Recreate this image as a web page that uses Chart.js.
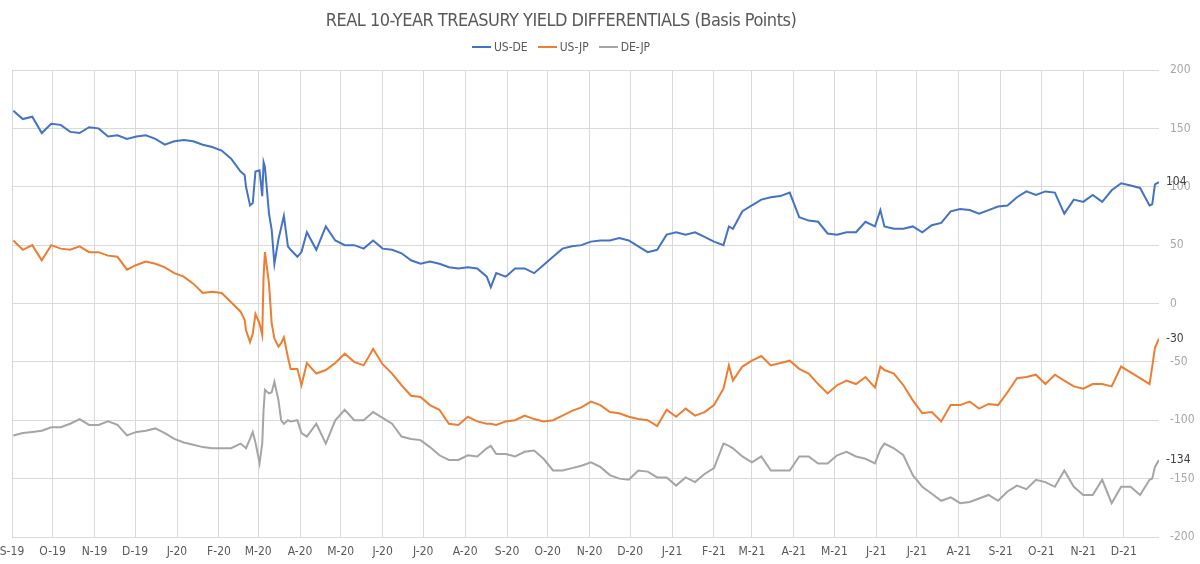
<!DOCTYPE html>
<html lang="en">
<head>
  <meta charset="UTF-8" />
  <title>Real 10-Year Treasury Yield Differentials</title>
  <script src="https://cdn.jsdelivr.net/npm/chart.js@4"></script>
  <style>
    body { margin:0; background:#fff; font-family:"Liberation Sans Narrow","DejaVu Sans Condensed",sans-serif; }
    #wrap { position:relative; width:1200px; height:564px; }
    #title { position:absolute; top:9px; left:0; width:1122px; text-align:center; font-size:18px; letter-spacing:-0.5px; color:#595959; }
    #legend { position:absolute; top:40px; left:0; width:1122px; display:flex; justify-content:center; gap:10px; font-size:12px; color:#595959; }
    .item { display:flex; align-items:center; }
    .swatch { width:19px; height:2px; margin-right:3px; }
  </style>
</head>
<body>
<div id="wrap">
  <canvas id="chart"></canvas>
  <div id="title">REAL 10-YEAR TREASURY YIELD DIFFERENTIALS (Basis Points)</div>
  <div id="legend"></div>
</div>

<script>
  // x axis: one label per month
  const monthLabels = ['S-19','O-19','N-19','D-19',
    'J-20','F-20','M-20','A-20','M-20','J-20','J-20','A-20','S-20','O-20','N-20','D-20',
    'J-21','F-21','M-21','A-21','M-21','J-21','J-21','A-21','S-21','O-21','N-21','D-21'];

  // observation dates (mostly weekly, denser around March 2020)
  const dates = [
    '2019-09-02','2019-09-09','2019-09-16','2019-09-23','2019-09-30',
    '2019-10-07','2019-10-14','2019-10-21','2019-10-28',
    '2019-11-04','2019-11-11','2019-11-18','2019-11-25',
    '2019-12-02','2019-12-09','2019-12-16','2019-12-23','2019-12-30',
    '2020-01-06','2020-01-13','2020-01-20','2020-01-27',
    '2020-02-03','2020-02-10','2020-02-17','2020-02-20','2020-02-21','2020-02-24','2020-02-26','2020-02-28',
    '2020-03-02','2020-03-04','2020-03-05','2020-03-06','2020-03-09','2020-03-11','2020-03-13','2020-03-16','2020-03-18','2020-03-20','2020-03-23','2020-03-25','2020-03-30',
    '2020-04-02','2020-04-06','2020-04-13','2020-04-20','2020-04-27',
    '2020-05-04','2020-05-11','2020-05-18','2020-05-25',
    '2020-06-01','2020-06-08','2020-06-15','2020-06-22','2020-06-29',
    '2020-07-06','2020-07-13','2020-07-20','2020-07-27',
    '2020-08-03','2020-08-10','2020-08-17','2020-08-20','2020-08-24','2020-08-31',
    '2020-09-07','2020-09-14','2020-09-21','2020-09-28',
    '2020-10-05','2020-10-12','2020-10-19','2020-10-26',
    '2020-11-02','2020-11-09','2020-11-16','2020-11-23','2020-11-30',
    '2020-12-07','2020-12-14','2020-12-21','2020-12-28',
    '2021-01-04','2021-01-11','2021-01-18','2021-01-25',
    '2021-02-01','2021-02-08','2021-02-12','2021-02-15','2021-02-22',
    '2021-03-01','2021-03-08','2021-03-15','2021-03-22','2021-03-29',
    '2021-04-05','2021-04-12','2021-04-19','2021-04-26',
    '2021-05-03','2021-05-10','2021-05-17','2021-05-24','2021-05-31',
    '2021-06-04','2021-06-07','2021-06-14','2021-06-21','2021-06-28',
    '2021-07-05','2021-07-12','2021-07-19','2021-07-26',
    '2021-08-02','2021-08-09','2021-08-16','2021-08-23','2021-08-30',
    '2021-09-06','2021-09-13','2021-09-20','2021-09-27',
    '2021-10-04','2021-10-11','2021-10-18','2021-10-25',
    '2021-11-01','2021-11-08','2021-11-15','2021-11-22','2021-11-29',
    '2021-12-06','2021-12-13','2021-12-20','2021-12-22','2021-12-24','2021-12-27'
  ];

  const usDe = [
    165,158,160,146,154,
    153,147,146,151,
    150,143,144,141,
    143,144,141,136,139,
    140,139,136,134,
    131,124,113,110,100,84,86,113,
    114,92,121,117,77,63,34,55,65,75,49,46,40,
    44,61,46,66,54,
    50,50,47,54,
    47,46,43,37,34,
    36,34,31,30,
    31,30,23,14,26,23,
    30,30,26,33,
    40,47,49,50,
    53,54,54,56,54,
    49,44,46,59,
    61,59,61,57,
    53,50,66,64,79,
    84,89,91,92,95,
    74,71,70,60,
    59,61,61,70,66,
    80,66,64,64,66,
    61,67,69,79,
    81,80,77,80,83,
    84,91,96,93,
    96,95,77,89,
    87,93,87,97,103,
    101,99,84,85,102,104
  ];

  const usJp = [
    54,46,50,37,50,
    47,46,49,44,
    44,41,40,29,
    33,36,34,31,26,
    23,17,9,10,
    9,1,-7,-14,-23,-33,-26,-9,
    -17,-27,23,44,17,-17,-30,-37,-34,-29,-46,-56,-56,
    -70,-51,-60,-57,-51,
    -43,-50,-53,-39,
    -52,-60,-70,-79,-80,
    -87,-91,-103,-104,
    -97,-101,-103,-103,-104,-101,
    -100,-96,-99,-101,
    -100,-96,-92,-89,
    -84,-87,-93,-94,-97,
    -99,-100,-105,-91,
    -97,-90,-96,-93,
    -87,-73,-53,-66,-54,
    -49,-45,-53,-51,-49,
    -56,-60,-69,-77,
    -70,-66,-69,-63,-72,
    -54,-57,-60,-70,-83,
    -94,-93,-101,-87,
    -87,-84,-90,-86,-87,
    -76,-64,-63,-61,
    -69,-61,-66,-71,
    -73,-69,-69,-71,-54,
    -59,-64,-69,-54,-38,-30
  ];

  const deJp = [
    -113,-111,-110,-109,-106,
    -106,-103,-99,-104,
    -104,-101,-104,-113,
    -110,-109,-107,-111,-116,
    -119,-121,-123,-124,
    -124,-124,-120,-123,-124,-116,-110,-119,
    -137,-120,-91,-74,-77,-76,-67,-83,-100,-103,-100,-101,-100,
    -111,-114,-103,-120,-100,
    -91,-100,-100,-93,
    -98,-103,-114,-116,-117,
    -123,-130,-134,-134,
    -130,-131,-124,-122,-129,-129,
    -131,-127,-126,-133,
    -143,-143,-141,-139,
    -136,-140,-147,-150,-151,
    -143,-144,-149,-149,
    -156,-149,-153,-146,
    -141,-120,-122,-124,-131,
    -136,-131,-143,-143,-143,
    -131,-131,-137,-137,
    -130,-127,-131,-133,-137,
    -125,-120,-124,-130,-147,
    -157,-163,-169,-166,
    -171,-170,-167,-164,-169,
    -161,-156,-159,-151,
    -153,-157,-143,-157,
    -164,-164,-151,-171,-157,
    -157,-164,-151,-150,-140,-134
  ];

  const seriesNames  = ['US-DE','US-JP','DE-JP'];
  const seriesColors = ['#4472C4','#ED7D31','#A5A5A5'];

  const FONT = '"Liberation Sans Narrow","DejaVu Sans Condensed",sans-serif';
  const DAY = 86400000;
  const START = Date.UTC(2019, 8, 1);  // axis starts 1 Sep 2019
  const dayOf = s => { const [y,m,d] = s.split('-').map(Number); return (Date.UTC(y, m-1, d) - START) / DAY; };
  const monthStarts = monthLabels.map((_, i) => (Date.UTC(2019, 8 + i, 1) - START) / DAY);

  const xs = dates.map(dayOf);
  const toPoints = vals => vals.map((v, i) => ({x: xs[i], y: v}));

  // html legend
  document.getElementById('legend').innerHTML = seriesNames.map((n, i) =>
    `<div class="item"><span class="swatch" style="background:${seriesColors[i]}"></span>${n}</div>`).join('');

  // value written next to the last point of each line
  const endLabels = {
    id: 'endLabels',
    afterDatasetsDraw(chart) {
      const ctx = chart.ctx;
      ctx.save();
      ctx.font = '12px ' + FONT;
      ctx.fillStyle = '#404040';
      ctx.textBaseline = 'middle';
      chart.data.datasets.forEach((ds, i) => {
        const pts = chart.getDatasetMeta(i).data;
        const last = pts[pts.length - 1];
        ctx.fillText(String(ds.data[ds.data.length - 1].y), last.x + 7, last.y);
      });
      ctx.restore();
    }
  };

  new Chart(document.getElementById('chart'), {
    type: 'line',
    data: {
      datasets: [usDe, usJp, deJp].map((vals, i) => ({
        label: seriesNames[i],
        data: toPoints(vals),
        borderColor: seriesColors[i],
        backgroundColor: seriesColors[i],
        borderWidth: 2,
        pointRadius: 0,
        tension: 0
      }))
    },
    options: {
      responsive: true,
      maintainAspectRatio: false,
      animation: false,
      layout: { padding: { left: 12, top: 70, right: 0, bottom: 5 } },
      plugins: { legend: { display: false }, title: { display: false }, tooltip: { enabled: false } },
      scales: {
        x: {
          type: 'linear',
          min: 0,
          max: dayOf('2021-12-27'),
          afterBuildTicks: s => { s.ticks = monthStarts.map(v => ({value: v})); },
          afterFit: s => { s.height = 22; s.paddingLeft = 0; s.paddingRight = 0; },
          ticks: {
            autoSkip: false, maxRotation: 0, padding: 8,
            color: '#595959', font: { family: FONT, size: 12 },
            callback: (v, i) => monthLabels[i]
          },
          grid: { color: '#d9d9d9', drawTicks: false },
          border: { display: false }
        },
        y: {
          position: 'right',
          min: -200, max: 200,
          afterFit: s => { s.width = 41; },
          ticks: { stepSize: 50, padding: 11, color: '#a6a6a6', font: { family: FONT, size: 12 } },
          grid: { color: '#d9d9d9', drawTicks: false },
          border: { display: false }
        }
      }
    },
    plugins: [endLabels]
  });
</script>
</body>
</html>
